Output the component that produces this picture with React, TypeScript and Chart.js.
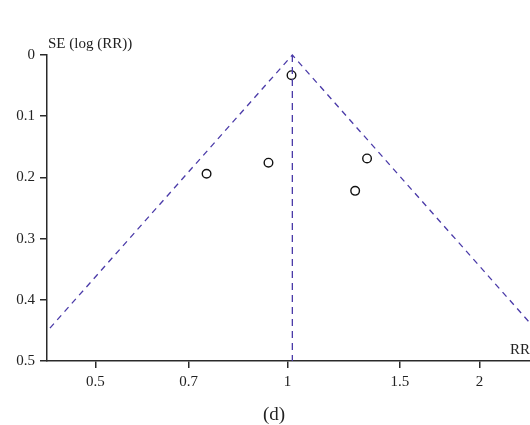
import React, { useEffect, useRef } from "react";
import { Chart, registerables } from "chart.js";

Chart.register(...registerables);

// Study estimates
const studyRR = [1.015, 0.747, 0.934, 1.333, 1.277];
const studySE = [0.033, 0.194, 0.176, 0.169, 0.222];

// Funnel (pseudo 95% CI limits) and pooled estimate line
const funnelRR = [0.382, 1.018, 2.71];
const funnelSE = [0.5, 0, 0.5];
const pooledRR = [1.018, 1.018];
const pooledSE = [0, 0.5];

const xTicks = [0.5, 0.7, 1, 1.5, 2];
const xTickLabels = ["0.5", "0.7", "1", "1.5", "2"];
const yTicks = [0, 0.1, 0.2, 0.3, 0.4, 0.5];
const yTickLabels = ["0", "0.1", "0.2", "0.3", "0.4", "0.5"];

const yTitle = "SE (log (RR))";
const xTitle = "RR";
const caption = "(d)";

const FONT = "'Liberation Serif', 'DejaVu Serif', serif";
const AXIS = "#2a2a2a";
const DASH = "#4a3aa8";

const labelPlugin = {
  id: "labels",
  afterDraw(chart: any) {
    const ctx = chart.ctx;
    const x = chart.scales.x;
    const y = chart.scales.y;
    ctx.save();
    ctx.fillStyle = "#222";
    ctx.textBaseline = "alphabetic";
    ctx.font = `15px ${FONT}`;
    ctx.textAlign = "left";
    ctx.fillText(yTitle, x.left + 1, y.top - 7);
    ctx.textAlign = "right";
    ctx.fillText(xTitle, x.right, y.bottom - 7);
    ctx.font = `19px ${FONT}`;
    ctx.textAlign = "center";
    ctx.fillText(caption, 274, 420);
    ctx.restore();
  },
};

export default function App() {
  const ref = useRef<HTMLCanvasElement>(null);
  useEffect(() => {
    if (!ref.current) return;
    const chart = new Chart(ref.current, {
      type: "scatter",
      data: {
        datasets: [
          {
            type: "line",
            data: funnelRR.map((v, i) => ({ x: v, y: funnelSE[i] })),
            borderColor: DASH,
            borderWidth: 1.3,
            borderDash: [6, 5],
            pointRadius: 0,
            fill: false,
            clip: { left: 0, top: 4, right: 0, bottom: 0 } as any,
          },
          {
            type: "line",
            data: pooledRR.map((v, i) => ({ x: v, y: pooledSE[i] })),
            borderColor: DASH,
            borderWidth: 1.3,
            borderDash: [7, 5],
            pointRadius: 0,
            fill: false,
          },
          {
            data: studyRR.map((v, i) => ({ x: v, y: studySE[i] })),
            pointRadius: 4.3,
            pointBorderWidth: 1.4,
            pointBorderColor: "#111",
            pointBackgroundColor: "rgba(0,0,0,0)",
            showLine: false,
          },
        ],
      } as any,
      options: {
        animation: false,
        responsive: true,
        maintainAspectRatio: false,
        layout: { autoPadding: false, padding: { top: 55, left: 0, right: 0, bottom: 0 } },
        plugins: {
          legend: { display: false },
          tooltip: { enabled: false },
          title: { display: false },
        },
        scales: {
          x: {
            type: "logarithmic",
            min: 0.42,
            max: 2.4,
            afterBuildTicks: (s: any) => {
              s.ticks = xTicks.map((v) => ({ value: v }));
            },
            afterFit: (s: any) => {
              s.height = 64;
            },
            ticks: {
              autoSkip: false,
              maxRotation: 0,
              padding: 5,
              color: "#222",
              font: { family: FONT, size: 15 },
              callback: (v: any) => {
                const i = xTicks.indexOf(Number(v));
                return i >= 0 ? xTickLabels[i] : "";
              },
            },
            grid: { drawOnChartArea: false, tickLength: 7, color: AXIS, lineWidth: 1.5 },
            border: { display: true, color: AXIS, width: 1.5 },
          },
          y: {
            type: "linear",
            reverse: true,
            min: 0,
            max: 0.5,
            afterBuildTicks: (s: any) => {
              s.ticks = yTicks.map((v) => ({ value: v }));
            },
            afterFit: (s: any) => {
              s.width = 47;
            },
            ticks: {
              padding: 5,
              color: "#222",
              font: { family: FONT, size: 15 },
              callback: (v: any) => {
                const i = yTicks.findIndex((t) => Math.abs(t - Number(v)) < 1e-9);
                return i >= 0 ? yTickLabels[i] : "";
              },
            },
            grid: { drawOnChartArea: false, tickLength: 7, color: AXIS, lineWidth: 1.5 },
            border: { display: true, color: AXIS, width: 1.5 },
          },
        },
      } as any,
      plugins: [labelPlugin],
    });
    return () => chart.destroy();
  }, []);

  return (
    <div style={{ position: "fixed", left: 0, top: 0, width: 530, height: 425, background: "#fff" }}>
      <canvas ref={ref} />
    </div>
  );
}
